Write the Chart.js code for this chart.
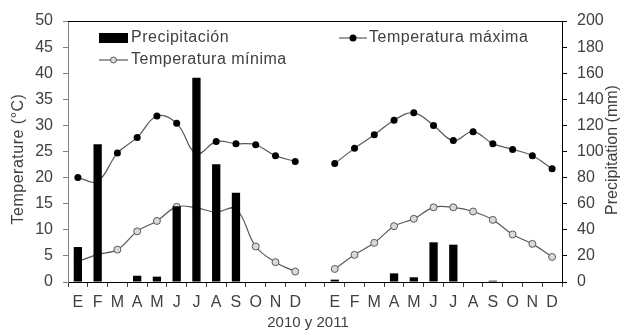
<!DOCTYPE html>
<html><head><meta charset="utf-8">
<script src="https://cdn.jsdelivr.net/npm/chart.js@4/dist/chart.umd.min.js"></script>
<style>html,body{margin:0;padding:0;background:#fff}</style>
</head><body>
<canvas id="c" width="622" height="331"></canvas>
<script>
const categories = ['E','F','M','A','M','J','J','A','S','O','N','D','',
                    'E','F','M','A','M','J','J','A','S','O','N','D'];
const precipitation = [26.8,105.6,0,4.8,4.1,58,156.6,90.3,68.4,0,0,0,null,
                       1.8,0,0,6.6,3.6,30.4,28.6,0,1,0,0,0];
const tempMax = [20,19.3,24.7,27.7,31.8,30.4,24.6,26.9,26.5,26.3,24.2,23.1,null,
                 22.7,25.6,28.2,31.0,32.4,30.0,27.1,28.8,26.5,25.4,24.2,21.7];
const tempMin = [3.9,5.3,6.2,9.7,11.7,14.4,14.2,13.4,14.0,6.8,3.8,2.0,null,
                 2.5,5.2,7.5,10.7,12.1,14.3,14.3,13.5,11.9,9.1,7.3,4.8];
const tempTicks = {min:0, max:50, step:5};
const precTicks = {min:0, max:200, step:20};
const labels = {prec:'Precipitación', tmax:'Temperatura máxima', tmin:'Temperatura mínima',
  yTitle:'Temperature (°C)', y2Title:'Precipitation (mm)', xTitle:'2010 y 2011'};

const FONT = "'Liberation Sans', Arial, sans-serif";
const TXT = '#404040';
const LINE = '#595959';

const decor = {
  id:'decor',
  afterDraw(chart){
    const {ctx, chartArea:a} = chart;
    ctx.save();
    ctx.strokeStyle = '#000'; ctx.lineWidth = 1;
    ctx.beginPath(); ctx.moveTo(a.left, a.top+0.5); ctx.lineTo(a.right, a.top+0.5); ctx.stroke();
    ctx.fillStyle = TXT;
    ctx.textBaseline = 'middle';
    // axis titles
    ctx.font = '16px ' + FONT;
    ctx.letterSpacing = '0.5px';
    ctx.save(); ctx.translate(19, 159); ctx.rotate(-Math.PI/2);
    ctx.textAlign = 'center'; ctx.fillText(labels.yTitle, 0, 0); ctx.restore();
    ctx.letterSpacing = '0px';
    ctx.save(); ctx.translate(613, 150); ctx.rotate(-Math.PI/2);
    ctx.textAlign = 'center'; ctx.fillText(labels.y2Title, 0, 0); ctx.restore();
    ctx.font = '15px ' + FONT;
    ctx.textAlign = 'center'; ctx.fillText(labels.xTitle, 308, 323);
    // legend
    ctx.font = '16px ' + FONT;
    ctx.letterSpacing = '0.5px';
    ctx.textAlign = 'left';
    ctx.fillStyle = '#000';
    ctx.fillRect(99, 33, 29, 10);
    ctx.fillStyle = TXT;
    ctx.fillText(labels.prec, 131, 38);
    ctx.strokeStyle = LINE; ctx.lineWidth = 1.2;
    ctx.beginPath(); ctx.moveTo(99, 60); ctx.lineTo(128, 60); ctx.stroke();
    ctx.beginPath(); ctx.arc(113.5, 60, 3, 0, Math.PI*2);
    ctx.fillStyle = '#d9d9d9'; ctx.fill(); ctx.lineWidth = 1; ctx.stroke();
    ctx.fillStyle = TXT; ctx.fillText(labels.tmin, 131, 60);
    ctx.strokeStyle = LINE; ctx.lineWidth = 1.2;
    ctx.beginPath(); ctx.moveTo(339, 38); ctx.lineTo(367, 38); ctx.stroke();
    ctx.beginPath(); ctx.arc(353, 38, 3.5, 0, Math.PI*2);
    ctx.fillStyle = '#000'; ctx.fill();
    ctx.fillStyle = TXT; ctx.fillText(labels.tmax, 369, 38);
    ctx.restore();
  }
};

new Chart(document.getElementById('c'), {
  data: {
    labels: categories,
    datasets: [
      {type:'bar', label:labels.prec, data:precipitation, yAxisID:'y2',
       backgroundColor:'#000', barPercentage:0.42, categoryPercentage:1, order:0},
      {type:'line', label:labels.tmax, data:tempMax, yAxisID:'y',
       borderColor:LINE, borderWidth:1.2, tension:0.4, spanGaps:false,
       pointRadius:3.5, pointBackgroundColor:'#000', pointBorderColor:'#000', pointBorderWidth:0, order:1},
      {type:'line', label:labels.tmin, data:tempMin, yAxisID:'y',
       borderColor:LINE, borderWidth:1.2, tension:0.4, spanGaps:false,
       pointRadius:3.5, pointBackgroundColor:'#d9d9d9', pointBorderColor:LINE, pointBorderWidth:1, order:2}
    ]
  },
  options: {
    responsive:false, animation:false,
    layout:{padding:{left:0,right:0,top:21,bottom:0}},
    plugins:{legend:{display:false}, tooltip:{enabled:false}},
    scales:{
      x:{type:'category', offset:true,
         grid:{display:true, drawOnChartArea:false, drawTicks:true, tickLength:5, offset:true, color:'#404040'},
         border:{display:true, color:'#000'},
         ticks:{font:{size:16, family:FONT}, color:TXT, padding:6, maxRotation:0, autoSkip:false},
         afterFit(s){ s.height = 49; }},
      y:{position:'left', min:tempTicks.min, max:tempTicks.max,
         grid:{display:true, drawOnChartArea:false, tickLength:5, color:'#808080'},
         border:{display:true, color:'#808080'},
         ticks:{stepSize:tempTicks.step, font:{size:16, family:FONT}, color:TXT, padding:10},
         afterFit(s){ s.width = 68; }},
      y2:{position:'right', min:precTicks.min, max:precTicks.max,
         grid:{display:true, drawOnChartArea:false, tickLength:5, color:'#000'},
         border:{display:true, color:'#000'},
         ticks:{stepSize:precTicks.step, font:{size:16, family:FONT}, color:TXT, padding:10},
         afterFit(s){ s.width = 60; }}
    }
  },
  plugins:[decor]
});
</script>
</body></html>
